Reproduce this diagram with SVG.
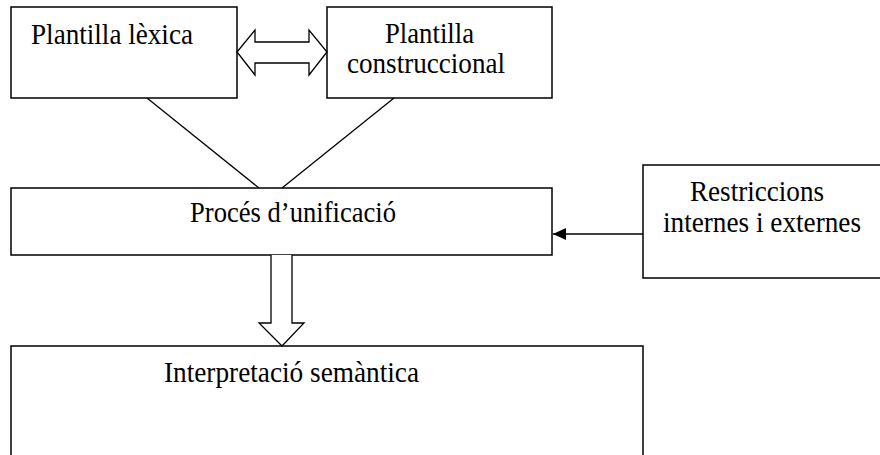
<svg xmlns="http://www.w3.org/2000/svg" width="880" height="455" viewBox="0 0 880 455">
  <defs>
    <style>
      .box { fill: #ffffff; stroke: #000000; stroke-width: 1.5; }
      .line { fill: none; stroke: #000000; stroke-width: 1.3; }
      .hollow { fill: #ffffff; stroke: #000000; stroke-width: 1.3; stroke-linejoin: miter; }
      .label { font-family: "Liberation Serif", "Times New Roman", serif; font-size: 28.5px; fill: #000000; }
    </style>
    <marker id="solid-head" viewBox="0 0 13 12" refX="13" refY="6" markerWidth="13" markerHeight="12" markerUnits="userSpaceOnUse" orient="auto">
      <path d="M0,0 L13,6 L0,12 Z" fill="#000000"/>
    </marker>
  </defs>
  <rect width="880" height="455" fill="#ffffff"/>

  <g id="plantilla-lexica">
    <rect class="box" x="11" y="7" width="226" height="91"/>
    <text class="label" x="31" y="44" textLength="162" lengthAdjust="spacingAndGlyphs">Plantilla lèxica</text>
  </g>

  <g id="plantilla-construccional">
    <rect class="box" x="327" y="7" width="225" height="91"/>
    <text class="label" x="385" y="43" textLength="89" lengthAdjust="spacingAndGlyphs">Plantilla</text>
    <text class="label" x="347" y="73" textLength="158" lengthAdjust="spacingAndGlyphs">construccional</text>
  </g>

  <g id="proces-unificacio">
    <rect class="box" x="11" y="188" width="541" height="67"/>
    <text class="label" x="190" y="222" textLength="206" lengthAdjust="spacingAndGlyphs">Procés d’unificació</text>
  </g>

  <g id="restriccions">
    <rect class="box" x="643" y="165" width="240" height="113"/>
    <text class="label" x="690" y="201" textLength="134" lengthAdjust="spacingAndGlyphs">Restriccions</text>
    <text class="label" x="663" y="232" textLength="198" lengthAdjust="spacingAndGlyphs">internes i externes</text>
  </g>

  <g id="interpretacio-semantica">
    <rect class="box" x="11" y="346" width="632" height="120"/>
    <text class="label" x="164" y="382" textLength="255" lengthAdjust="spacingAndGlyphs">Interpretació semàntica</text>
  </g>

  <g id="connectors">
    <!-- two-way hollow arrow between the templates -->
    <path class="hollow" d="M237,52 L255,30 L255,42 L309,42 L309,30 L327,52 L309,75 L309,63 L255,63 L255,75 Z"/>
    <!-- templates converge onto the unification process -->
    <line class="line" x1="147" y1="98" x2="259" y2="188"/>
    <line class="line" x1="394" y1="98" x2="282" y2="188"/>
    <!-- restrictions feed the process -->
    <line class="line" x1="643" y1="234" x2="553" y2="234" marker-end="url(#solid-head)"/>
    <!-- hollow block arrow down to semantic interpretation -->
    <path class="hollow" d="M271,255 L271,323 L259,323 L282,346 L304,323 L292,323 L292,255"/>
  </g>
</svg>
